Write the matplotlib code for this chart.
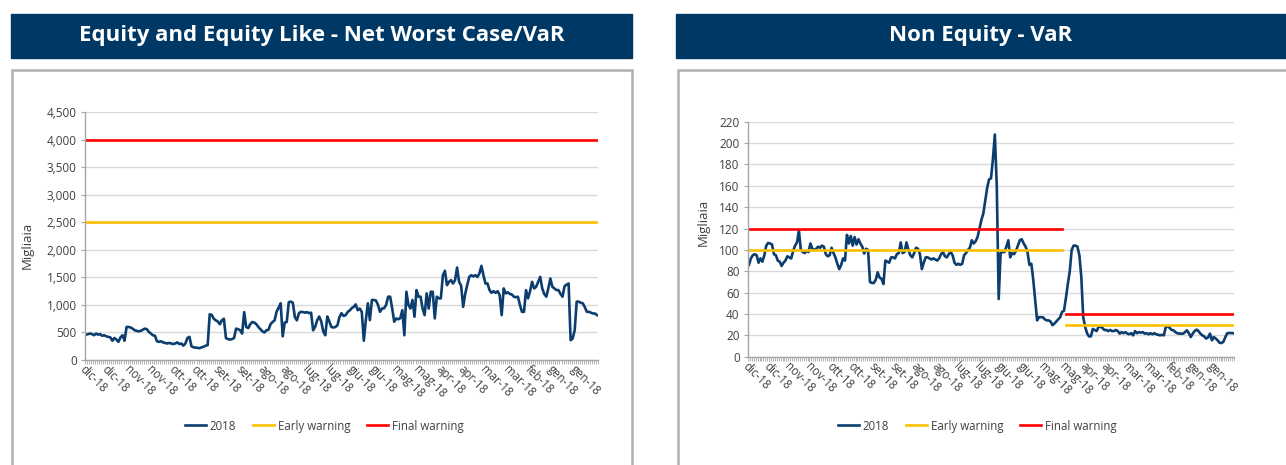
import numpy as np
import matplotlib.pyplot as plt
from matplotlib.patches import Rectangle
from matplotlib.ticker import FuncFormatter, MultipleLocator

# etichette mensili dell'asse x (una ogni 11 osservazioni, dal più recente)
mesi = ["dic-18", "dic-18", "nov-18", "nov-18", "ott-18", "ott-18", "set-18", "set-18",
        "ago-18", "ago-18", "lug-18", "lug-18", "giu-18", "giu-18", "mag-18", "mag-18",
        "apr-18", "apr-18", "mar-18", "mar-18", "feb-18", "gen-18", "gen-18"]
passo_etichette = 11

# Equity and Equity Like - Net Worst Case/VaR (migliaia)
equity_2018 = [
    460, 470, 480, 470, 450, 480, 460, 470, 440, 450,
    430, 420, 410, 350, 400, 370, 330, 410, 450, 350,
    600, 600, 590, 570, 540, 530, 520, 530, 550, 570,
    560, 510, 480, 450, 440, 340, 330, 340, 320, 310,
    300, 310, 300, 290, 300, 320, 290, 300, 260, 300,
    400, 420, 250, 230, 225, 220, 215, 230, 240, 260,
    270, 830, 820, 750, 720, 700, 650, 720, 750, 400,
    380, 370, 380, 400, 570, 560, 540, 480, 870, 600,
    580, 650, 690, 680, 650, 600, 560, 520, 500, 540,
    550, 650, 690, 720, 880, 950, 1030, 430, 680, 690,
    1050, 1060, 1040, 780, 720, 850, 875, 870, 860, 870,
    850, 860, 540, 600, 720, 790, 700, 520, 450, 790,
    700, 600, 590, 600, 630, 780, 850, 800, 815, 870,
    900, 940, 965, 1010, 905, 935, 875, 350, 725, 1030,
    725, 1090, 1090, 1080, 1000, 875, 935, 940, 1000, 1150,
    1150, 935, 695, 755, 740, 760, 905, 450, 1240, 1000,
    935, 1090, 785, 1270, 1150, 1150, 935, 815, 1210, 935,
    1240, 1240, 755, 1150, 1120, 1120, 1540, 1620, 1360, 1420,
    1450, 1390, 1450, 1680, 1420, 1350, 965, 1200, 1360, 1510,
    1540, 1520, 1540, 1510, 1570, 1710, 1540, 1390, 1390, 1270,
    1220, 1250, 1220, 1250, 1180, 815, 1300, 1210, 1230, 1200,
    1190, 1150, 1140, 1150, 1000, 875, 875, 1270, 1120, 1250,
    1420, 1300, 1330, 1420, 1510, 1300, 1200, 1150, 1300, 1480,
    1330, 1300, 1270, 1270, 1200, 1150, 1340, 1370, 1390, 360,
    390, 540, 1060, 1060, 1040, 1030, 960, 875, 875, 860, 845, 845, 815,
]
equity_early = [2500]
equity_final = [4000]

# Non Equity - VaR (migliaia)
non_equity_2018 = [
    86, 92, 95, 96, 95, 88, 92, 89, 95, 104,
    106.5, 106, 105, 96, 95, 90, 89, 85, 88, 90,
    94, 93, 92, 99, 104, 107, 118, 100, 98, 97,
    99, 98, 106, 101, 100, 101, 103, 102, 104, 103,
    96, 94, 95, 102, 97, 93, 87, 82, 86, 92,
    90, 114, 106, 113, 104, 112, 105, 110, 106, 103,
    96.5, 101, 100, 70, 69, 69, 72, 79, 74, 73,
    68, 90, 89, 88, 93, 93, 92, 96, 97, 107,
    97, 98, 107, 100, 95, 93, 97, 102, 101, 96,
    82, 88, 93, 93, 92, 91, 92, 91, 90, 92,
    96, 98, 94, 93, 96, 98, 95, 88, 86, 87,
    86, 87, 95, 97, 100, 102, 109, 106, 108, 112,
    120, 128, 134, 146, 158, 166, 167, 185, 208, 160,
    54, 97, 98, 98, 103, 109, 93, 97, 96, 99,
    104, 109, 110, 106, 103, 98, 86, 87, 72, 53,
    34, 37, 37, 37, 35, 34, 34, 33, 29.5, 31,
    33, 35, 37, 42, 43, 55, 68, 80, 100, 104,
    104, 103, 95, 75, 37, 28, 22, 19, 19, 26,
    25, 24, 28, 28, 27, 25, 25, 24, 25, 24,
    24, 25, 24, 21.6, 23, 22, 23, 21.6, 21, 22,
    20, 24, 22, 23, 22.5, 23, 21.6, 22, 21, 22,
    21, 22, 21, 20.5, 20, 20.5, 20, 28, 28.4, 27,
    25, 24.7, 23, 22, 21.6, 21.6, 21.6, 23, 24.7, 22,
    18.4, 21.6, 24, 25.3, 24, 21.6, 20, 19, 17, 18,
    21.6, 15.3, 18.4, 17, 15.3, 13, 12.8, 14, 18.4, 22, 22.2, 22.2, 22,
]
# soglie: valore recente, poi valore precedente dall'osservazione indicata
non_equity_early = [100, 30]
non_equity_final = [120, 40]
cambio_soglia = 164

W, H = 1286, 465
BLU = "#003865"
BLU_LINEA = "#0b3d6f"
GIALLO = "#ffc000"
ROSSO = "#ff0000"
GRIGIO = "#a6a6a6"
TESTO = "#404040"

plt.rcParams["font.family"] = ["Open Sans", "DejaVu Sans"]


def soglia(livelli, n, cambio=None):
    s = np.full(n, float(livelli[0]))
    if cambio is not None:
        s[cambio:] = livelli[1]
        s[cambio] = np.nan
    return s


def rett(x0, y0, x1, y1):
    return [x0 / W, 1 - y1 / H, (x1 - x0) / W, (y1 - y0) / H]


def intestazione(fig, x0, x1, titolo):
    fig.patches.append(Rectangle((x0 / W, 1 - 58 / H), (x1 - x0) / W, 44 / H,
                                 transform=fig.transFigure, color=BLU, zorder=0))
    fig.text((x0 + x1) / 2 / W, 1 - 36 / H, titolo, color="white", fontsize=16,
             fontweight="bold", ha="center", va="center")


def cornice(fig, x0, x1):
    fig.patches.append(Rectangle((x0 / W, -0.1), (x1 - x0) / W, 1.1 - 70 / H,
                                 transform=fig.transFigure, fill=False,
                                 edgecolor="#b0b0b0", linewidth=1.8, zorder=0))


def pannello(fig, box, valori, early, final, ymax, ystep, fmt, ylab_xy, leg_x):
    ax = fig.add_axes(rett(*box))
    x = np.arange(len(valori))
    ax.plot(x, valori, color=BLU_LINEA, lw=1.9, label="2018", solid_joinstyle="round")
    ax.plot(x, early, color=GIALLO, lw=1.9, label="Early warning")
    ax.plot(x, final, color=ROSSO, lw=1.9, label="Final warning")

    ax.set_xlim(-0.5, len(valori) - 0.5)
    ax.set_ylim(0, ymax)
    ax.yaxis.set_major_locator(MultipleLocator(ystep))
    ax.yaxis.set_major_formatter(FuncFormatter(fmt))
    ax.grid(axis="y", color="#d9d9d9", lw=1)
    ax.set_axisbelow(True)

    pos = np.arange(0, len(valori), passo_etichette)
    ax.set_xticks(pos)
    ax.set_xticklabels(mesi[:len(pos)], rotation=-45, ha="left", va="top",
                       rotation_mode="anchor")
    ax.set_xticks(np.arange(len(valori) + 1) - 0.5, minor=True)
    ax.tick_params(axis="x", which="both", length=3, width=0.6, color=GRIGIO,
                   labelsize=8.3, labelcolor=TESTO, pad=2)
    ax.tick_params(axis="x", which="major", length=0)
    ax.tick_params(axis="y", length=3, width=0.8, color=GRIGIO, labelsize=8.5,
                   labelcolor=TESTO, pad=3)
    for s in ("top", "right"):
        ax.spines[s].set_visible(False)
    for s in ("left", "bottom"):
        ax.spines[s].set_color(GRIGIO)
        ax.spines[s].set_linewidth(1)

    fig.text(ylab_xy[0] / W, 1 - ylab_xy[1] / H, "Migliaia", rotation=90,
             fontsize=9.5, color=TESTO, ha="center", va="center")
    h, l = ax.get_legend_handles_labels()
    fig.legend(h, l, loc="center", bbox_to_anchor=(leg_x / W, 1 - 426 / H), ncol=3,
               frameon=False, fontsize=8.3, handlelength=1.9, handletextpad=0.3,
               columnspacing=1.4, labelcolor=TESTO)
    return ax


fig = plt.figure(figsize=(W / 100, H / 100), dpi=100)

cornice(fig, 12, 632)
cornice(fig, 678, 1300)
intestazione(fig, 11, 632, "Equity and Equity Like - Net Worst Case/VaR")
intestazione(fig, 676, 1286, "Non Equity - VaR")

n = len(equity_2018)
pannello(fig, (85, 112.3, 598, 360), equity_2018,
         soglia(equity_early, n), soglia(equity_final, n),
         4500, 500, lambda v, p: f"{v:,.0f}", (27, 245), 324)

m = len(non_equity_2018)
pannello(fig, (748, 121.7, 1234, 356.7), non_equity_2018,
         soglia(non_equity_early, m, cambio_soglia),
         soglia(non_equity_final, m, cambio_soglia),
         220, 20, lambda v, p: f"{v:.0f}", (703, 222), 977)

fig.savefig("out.png", dpi=100, facecolor="white")
